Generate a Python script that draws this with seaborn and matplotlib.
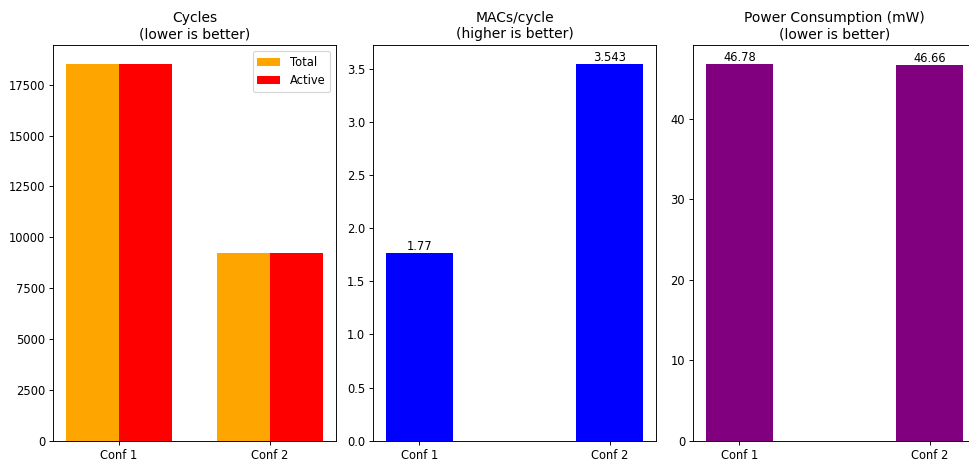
import matplotlib
matplotlib.use("Agg")
import matplotlib.pyplot as plt
import seaborn as sns
import pandas as pd

# Benchmark results for the two configurations
configs = ["Conf 1", "Conf 2"]
total_cycles = [18512, 9249]
active_cycles = [18500, 9220]
macs_per_cycle = [1.77, 3.543]
power_mw = [46.78, 46.66]

cycle_df = pd.DataFrame({
    "config": configs * 2,
    "kind": ["Total"] * len(configs) + ["Active"] * len(configs),
    "cycles": total_cycles + active_cycles,
})
macs_df = pd.DataFrame({"config": configs, "macs": macs_per_cycle})
power_df = pd.DataFrame({"config": configs, "power": power_mw})

DPI = 83
fig = plt.figure(figsize=(969 / DPI, 464 / DPI), dpi=DPI)
axes = fig.subplots(1, 3)
fig.subplots_adjust(left=0.055, right=1.0069, bottom=0.0502, top=0.9024, wspace=0.133)

# Cycles: grouped bars
ax = axes[0]
sns.barplot(data=cycle_df, x="config", y="cycles", hue="kind",
            palette={"Total": "orange", "Active": "red"},
            width=0.7, gap=0, saturation=1, linewidth=0, ax=ax)
ax.set_title("Cycles\n(lower is better)")
ax.legend(loc="upper right")

# MACs per cycle
ax = axes[1]
sns.barplot(data=macs_df, x="config", y="macs", color="blue",
            width=0.35, saturation=1, linewidth=0, ax=ax)
ax.set_title("MACs/cycle\n(higher is better)")
ax.bar_label(ax.containers[0], fmt="%g")

# Power consumption
ax = axes[2]
sns.barplot(data=power_df, x="config", y="power", color="purple",
            width=0.35, saturation=1, linewidth=0, ax=ax)
ax.set_title("Power Consumption (mW)\n(lower is better)")
ax.bar_label(ax.containers[0], fmt="%g")

for ax in axes:
    ax.set_xlabel("")
    ax.set_ylabel("")
    ax.autoscale(axis="x")
    ax.margins(x=0.05)

fig.savefig("out.png", dpi=DPI)
